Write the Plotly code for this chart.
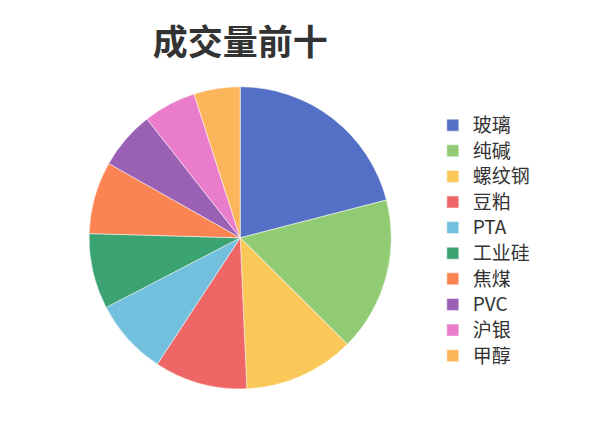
import plotly.graph_objects as go

# 成交量前十 (volume share)
names = ["玻璃", "纯碱", "螺纹钢", "豆粕", "PTA", "工业硅", "焦煤", "PVC", "沪银", "甲醇"]
volumes = [2097, 1647, 1186, 994, 814, 806, 775, 622, 564, 494]
colors = [
    "#5470c6", "#91cc75", "#fac858", "#ee6666", "#73c0de",
    "#3ba272", "#fc8452", "#9a60b4", "#ea7ccc", "#fdb55c",
]

# slightly bigger legend text without stretching the row spacing
legend_labels = ['<span style="font-size:19px">' + n + "</span>" for n in names]

fig = go.Figure(
    go.Pie(
        labels=legend_labels,
        values=volumes,
        sort=False,
        direction="clockwise",
        rotation=0,
        textinfo="none",
        hoverinfo="label+value+percent",
        marker=dict(colors=colors, line=dict(color="white", width=0.5)),
        domain=dict(x=[0.135, 0.639], y=[0.11, 0.816]),
    )
)

fig.update_layout(
    width=600,
    height=428,
    margin=dict(t=0, l=0, r=0, b=0),
    paper_bgcolor="white",
    font=dict(family="Noto Sans CJK SC", color="#333333"),
    title=dict(
        text="<b>成交量前十</b>",
        x=0.387,
        xanchor="center",
        y=0.918,
        yanchor="middle",
        font=dict(size=35, color="#333333"),
    ),
    legend=dict(
        x=0.708,
        xanchor="left",
        y=0.456,
        yanchor="middle",
        font=dict(size=17.4, color="#333333"),
        itemclick=False,
    ),
)

fig.write_html("out.html")
